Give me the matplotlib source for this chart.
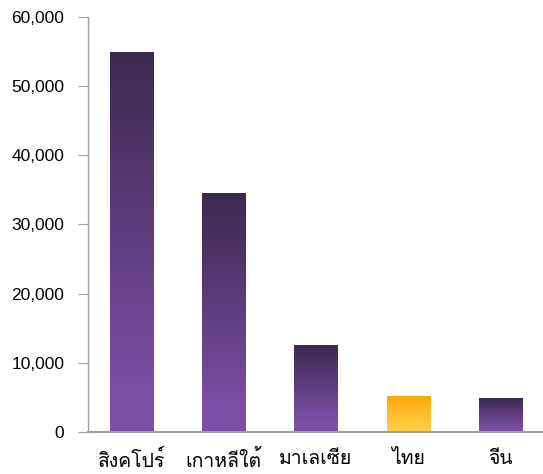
import matplotlib
matplotlib.use("Agg")
import matplotlib.pyplot as plt
from matplotlib.colors import LinearSegmentedColormap
import numpy as np

countries = ["สิงคโปร์", "เกาหลีใต้", "มาเลเซีย", "ไทย", "จีน"]
values = [54900, 34500, 12600, 5200, 4900]
highlight = "ไทย"
yticks = [0, 10000, 20000, 30000, 40000, 50000, 60000]

# Loma (tlwg) has zero-advance Thai marks, so it works without shaping
label_family = ["Loma", "DejaVu Sans"]

purple = LinearSegmentedColormap.from_list(
    "p", [(0, "#7d4fa5"), (0.12, "#7c4ea4"), (1, "#3a2a4f")])
orange = LinearSegmentedColormap.from_list(
    "o", [(0, "#ffd44c"), (0.12, "#ffcf45"), (1, "#ffa80c")])

fig = plt.figure(figsize=(5.43, 4.74), dpi=100)
ax = fig.add_axes([88/543, 42/474, (543-88)/543, (432-17)/474])

width = 0.47
grad = np.linspace(0, 1, 256).reshape(-1, 1)
for i, (c, v) in enumerate(zip(countries, values)):
    cmap = orange if c == highlight else purple
    bar = ax.bar(i, v, width=width, color="none", edgecolor="none")[0]
    im = ax.imshow(grad, cmap=cmap, origin="lower", aspect="auto",
                   extent=[i - width/2, i + width/2, 0, v], zorder=2)
    im.set_clip_path(bar)

ax.set_xlim(-0.47, 4.46)
ax.set_ylim(0, 60000)
ax.set_yticks(yticks)
ax.set_yticklabels([f"{t:,}" for t in yticks], fontsize=12.5, family="Liberation Sans")
ax.set_xticks(range(len(countries)))
ax.set_xticklabels(countries, fontsize=14, family=label_family)

for s in ["top", "right"]:
    ax.spines[s].set_visible(False)
ax.spines["left"].set_color("#a0a0a0")
ax.spines["left"].set_linewidth(1.0)
ax.spines["bottom"].set_color("#a0a0a0")
ax.spines["bottom"].set_linewidth(1.5)
ax.tick_params(axis="y", length=7, color="#a0a0a0", pad=10)
ax.tick_params(axis="x", length=0, pad=13)

fig.savefig("out.png", dpi=100)
